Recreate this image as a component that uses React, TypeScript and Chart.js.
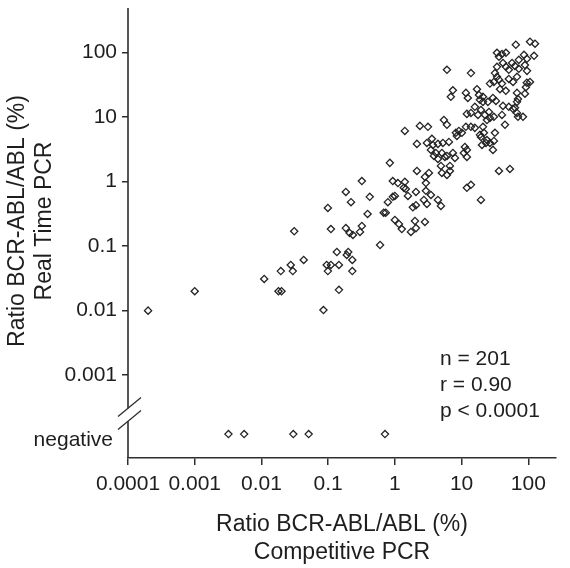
import React, { useEffect, useRef } from 'react';
import { Chart, registerables } from 'chart.js';

Chart.register(...registerables);

// Competitive PCR ratio (%) – x values of the positive samples
const competitivePCR = [
  0.0002, 0.001, 0.011, 0.018, 0.02, 0.0195, 0.0275, 0.0295, 0.031, 0.043,
  0.085, 0.095, 0.11, 0.099, 0.145, 0.145, 0.135, 0.2, 0.19, 0.23,
  0.23, 0.6, 0.32, 0.184, 0.22, 0.42, 0.099, 0.39, 0.11, 0.184,
  0.32, 0.21, 0.235, 0.3, 0.84, 2.14, 0.68, 0.73, 1.0, 1.15,
  1.27, 1.74, 2.0, 2.07, 2.82, 0.785, 0.93, 1.0, 0.93, 1.11,
  1.41, 1.36, 1.46, 1.57, 2.07, 1.86, 2.07, 2.72, 3.02, 2.92,
  3.47, 4.42, 4.9, 2.92, 2.82, 3.24, 4.12, 5.07, 5.62, 7.41,
  7.94, 4.9, 6.68, 6.03, 5.07, 1.41, 2.37, 3.13, 5.43, 6.03,
  2.14, 3.02, 3.59, 3.72, 4.42, 5.25, 6.46, 3.47, 3.85, 4.42,
  6.03, 6.68, 12.0, 13.8, 19.5, 36.3, 53, 11.2, 12.0, 10.8,
  12.0, 8.2, 9.1, 10.1, 11.6, 8.5, 15.8, 20.9, 21.6, 19.5,
  12.0, 13.8, 15.8, 17.6, 19.5, 22.4, 25.7, 24.0, 26.6, 30.5,
  18.8, 24.8, 32.7, 41.7, 40.3, 44.7, 67.6, 63.1, 83.2, 70,
  18.8, 24.0, 26.6, 30.5, 31.6, 29.5, 20.2, 23.2, 6.03, 13.8,
  65, 106, 126, 33.9, 40.3, 46.2, 36.3, 86, 122, 95.5,
  72, 41.7, 46.2, 57, 63, 72, 89, 95.5, 51, 33.9,
  31.6, 33.9, 30.5, 36.3, 40.3, 26.6, 51, 59, 67.6, 37.6,
  46, 95, 106, 92, 89, 67.6, 70, 7.4, 6.9, 11.6,
  12.4, 17, 18.2, 20.9, 20.9, 29.5, 51, 59, 67.6, 13.8,
];

// Real time PCR ratio (%) – y values of the positive samples
const realTimePCR = [
  0.01, 0.02, 0.031, 0.02, 0.02, 0.041, 0.051, 0.041, 0.17, 0.061,
  0.0102, 0.051, 0.051, 0.041, 0.051, 0.021, 0.081, 0.081, 0.073, 0.061,
  0.041, 0.104, 1.02, 0.69, 0.48, 0.58, 0.39, 0.315, 0.184, 0.19,
  0.205, 0.16, 0.149, 0.166, 1.95, 1.46, 0.33, 0.33, 0.254, 0.22,
  0.184, 0.166, 0.245, 0.19, 0.237, 0.48, 0.58, 0.6, 1.02, 0.95,
  0.99, 0.8, 0.77, 0.6, 0.69, 0.4, 0.43, 0.52, 0.45, 0.72,
  0.62, 0.52, 0.42, 0.95, 1.18, 1.36, 2.78, 2.78, 2.41, 2.78,
  2.33, 1.75, 1.75, 1.27, 1.36, 6.1, 7.3, 7.05, 9.0, 7.6,
  3.84, 3.97, 4.6, 3.7, 3.84, 3.97, 4.12, 3.1, 2.5, 2.24,
  2.5, 1.46, 0.8, 0.89, 0.52, 1.46, 1.57, 3.44, 3.1, 2.78,
  2.41, 5.7, 6.1, 5.7, 7.05, 5.1, 6.8, 7.05, 5.7, 4.9,
  11.2, 11.6, 14.4, 10.8, 12.9, 10.8, 12.0, 9.0, 9.7, 10.1,
  18.5, 17.2, 17.8, 14.9, 10.8, 7.6, 17.2, 13.9, 10.1, 10.1,
  5.3, 4.4, 3.97, 4.27, 5.7, 3.1, 3.7, 3.97, 54, 48,
  132, 147, 137, 99, 95, 99, 86, 92, 89, 80,
  77, 69, 60, 69, 62, 56, 64, 52, 54, 60,
  48, 42, 35, 38, 33, 33, 39, 35, 42, 27,
  25.5, 34, 35, 29, 23, 23.7, 19, 26, 20.6, 23.7,
  19.8, 27, 22, 20.6, 17.2, 19.8, 14.4, 13.4, 11.6, 7.05,
];

// Competitive PCR ratio (%) of samples negative by real time PCR
const negativeCompetitivePCR = [0.0032, 0.0055, 0.03, 0.051, 0.71];

const xTickValues = [0.0001, 0.001, 0.01, 0.1, 1, 10, 100];
const xTickLabels = ['0.0001', '0.001', '0.01', '0.1', '1', '10', '100'];
const yTickValues = [0.001, 0.01, 0.1, 1, 10, 100];
const yTickLabels = ['0.001', '0.01', '0.1', '1', '10', '100'];

const X_MIN = 0.0001;
const X_MAX = 260;
const Y_MIN = 5.2e-5;
const Y_MAX = 490;
const NEGATIVE_LEVEL = 1.22e-4; // row where "negative" samples are placed
const BREAK_LEVEL = 2.44e-4; // axis break location

const negativeLabel = 'negative';
const statsLines = ['n = 201', 'r = 0.90', 'p < 0.0001'];
const xTitle = ['Ratio BCR-ABL/ABL (%)', 'Competitive PCR'];
const yTitle = ['Ratio BCR-ABL/ABL (%)', 'Real Time PCR'];

const FONT_FAMILY = '"Liberation Sans", Arial, Helvetica, sans-serif';
const TEXT_COLOR = '#1e1e1e';
const AXIS_COLOR = '#2e2e2e';
const MARK_COLOR = '#232323';
const TITLE_SIZE = 23;

const decorations = {
  id: 'decorations',
  afterDraw(chart: any) {
    const ctx = chart.ctx as CanvasRenderingContext2D;
    const area = chart.chartArea;
    const yScale = chart.scales.y;
    const ax = area.left;
    const gapCenter = yScale.getPixelForValue(BREAK_LEVEL);
    const halfGap = 6.5;
    const slope = 19 / 23;

    ctx.save();
    ctx.strokeStyle = AXIS_COLOR;
    ctx.lineWidth = 1.6;
    ctx.beginPath();
    ctx.moveTo(ax, area.top);
    ctx.lineTo(ax, gapCenter - halfGap);
    ctx.moveTo(ax, gapCenter + halfGap);
    ctx.lineTo(ax, area.bottom);
    ctx.stroke();

    ctx.lineWidth = 1.3;
    for (const c of [gapCenter - halfGap, gapCenter + halfGap]) {
      ctx.beginPath();
      ctx.moveTo(ax - 10, c + 10 * slope);
      ctx.lineTo(ax + 13, c - 13 * slope);
      ctx.stroke();
    }

    ctx.fillStyle = TEXT_COLOR;
    ctx.font = `21px ${FONT_FAMILY}`;
    ctx.textAlign = 'right';
    ctx.textBaseline = 'alphabetic';
    ctx.fillText(negativeLabel, ax - 15, yScale.getPixelForValue(NEGATIVE_LEVEL) + 12);

    ctx.textAlign = 'left';
    statsLines.forEach((t, i) => ctx.fillText(t, area.right - 116, 365 + i * 26));

    ctx.font = `${TITLE_SIZE}px ${FONT_FAMILY}`;
    ctx.save();
    ctx.translate(18, 221);
    ctx.rotate(-Math.PI / 2);
    ctx.textAlign = 'center';
    ctx.textBaseline = 'middle';
    ctx.fillText(yTitle[0], 0, 0);
    ctx.fillText(yTitle[1], 0, 27);
    ctx.restore();
    ctx.restore();
  },
};

export default function App() {
  const canvasRef = useRef<HTMLCanvasElement | null>(null);

  useEffect(() => {
    if (!canvasRef.current) return;
    Chart.defaults.font.family = FONT_FAMILY;
    const tickFont = { size: 21, family: FONT_FAMILY, lineHeight: 1.2 };

    const chart = new Chart(canvasRef.current, {
      type: 'scatter',
      data: {
        datasets: [
          {
            data: competitivePCR.map((x, i) => ({ x, y: realTimePCR[i] })),
            pointStyle: 'rectRot',
            pointRadius: 3.6,
            borderColor: MARK_COLOR,
            backgroundColor: 'rgba(0,0,0,0)',
            borderWidth: 1.3,
          },
          {
            data: negativeCompetitivePCR.map((x) => ({ x, y: NEGATIVE_LEVEL })),
            pointStyle: 'rectRot',
            pointRadius: 3.6,
            borderColor: MARK_COLOR,
            backgroundColor: 'rgba(0,0,0,0)',
            borderWidth: 1.3,
          },
        ],
      },
      options: {
        animation: false,
        responsive: false,
        devicePixelRatio: 1,
        layout: { padding: { left: 0, right: 14, top: 8, bottom: 0 } },
        plugins: {
          legend: { display: false },
          tooltip: { enabled: false },
        },
        scales: {
          x: {
            type: 'logarithmic',
            min: X_MIN,
            max: X_MAX,
            afterBuildTicks: (s: any) => {
              s.ticks = xTickValues.map((v) => ({ value: v }));
            },
            afterFit: (s: any) => {
              s.height = 110;
              s.paddingLeft = 0;
              s.paddingRight = 0;
            },
            ticks: {
              callback: (_v: any, i: number) => xTickLabels[i],
              font: tickFont,
              color: TEXT_COLOR,
              padding: 7,
              autoSkip: false,
              maxRotation: 0,
            },
            grid: {
              drawOnChartArea: false,
              drawTicks: true,
              tickLength: 7,
              color: AXIS_COLOR,
              lineWidth: 1.5,
            },
            border: { display: true, color: AXIS_COLOR, width: 1.6 },
            title: {
              display: true,
              text: xTitle,
              color: TEXT_COLOR,
              font: { size: TITLE_SIZE, family: FONT_FAMILY, lineHeight: 28 / TITLE_SIZE },
              padding: { top: 0, bottom: 1 },
            },
          },
          y: {
            type: 'logarithmic',
            min: Y_MIN,
            max: Y_MAX,
            afterBuildTicks: (s: any) => {
              s.ticks = yTickValues.map((v) => ({ value: v }));
            },
            afterFit: (s: any) => {
              s.width = 128;
              s.paddingTop = 0;
              s.paddingBottom = 0;
            },
            ticks: {
              callback: (_v: any, i: number) => yTickLabels[i],
              font: tickFont,
              color: TEXT_COLOR,
              padding: 5,
              autoSkip: false,
            },
            grid: {
              drawOnChartArea: false,
              drawTicks: true,
              tickLength: 6,
              color: AXIS_COLOR,
              lineWidth: 1.5,
            },
            border: { display: false },
          },
        },
      } as any,
      plugins: [decorations],
    });
    return () => chart.destroy();
  }, []);

  return (
    <div style={{ position: 'absolute', left: 0, top: 0, width: 570, height: 568, background: '#fff' }}>
      <canvas ref={canvasRef} width={570} height={568} />
    </div>
  );
}
